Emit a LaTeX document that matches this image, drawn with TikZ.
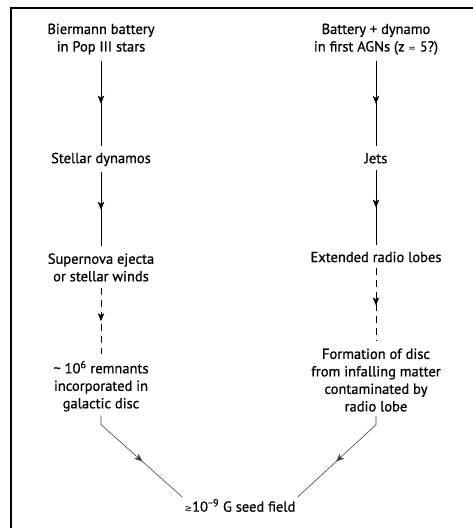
\documentclass[tikz,border=0pt]{standalone}
\usepackage{fontspec}
\setmainfont{PT Sans}[FakeBold=0.7]
\newfontfamily\symfont{DejaVu Sans}
\usetikzlibrary{positioning,arrows.meta,decorations.markings}

\tikzset{
  lbl/.style={align=center, inner sep=0pt, font=\fontsize{14.5}{17.5}\selectfont},
  midarrow/.style={postaction={decorate}, decoration={markings, mark=at position #1 with {\arrow{Stealth[length=8pt,width=6.5pt,inset=2pt]}}}},
  midarrow/.default=0.5,
  flow/.style={line width=0.7pt, midarrow, shorten <=6pt, shorten >=7pt},
  weak/.style={flow, dash pattern=on 7pt off 5pt},
  merge/.style={line width=0.6pt, black!75, midarrow=0.55, shorten <=4pt, shorten >=3pt},
}

\begin{document}
\begin{tikzpicture}[x=1pt, y=-1pt]
\useasboundingbox (0,0) rectangle (473,528);
\draw[line width=2.5pt] (11,528) -- (11,8) -- (473,8);

% left column: stars
\node[lbl, anchor=north] (bier) at (101,23.5) {Biermann battery\\in Pop III stars};
\node[lbl, below=98pt of bier] (stel) {Stellar dynamos};
\node[lbl, below=87pt of stel] (sn) {Supernova ejecta\\or stellar winds};
\node[lbl, below=79pt of sn] (rem) {\textasciitilde{} 10\textsuperscript{6} remnants\\incorporated in\\galactic disc};

% right column: AGNs
\node[lbl, anchor=north] (bat) at (376,23.5) {Battery + dynamo\\in first AGNs (z {\symfont\small ≈} 5?)};
\node[lbl, below=98pt of bat] (jets) {Jets};
\node[lbl, below=88pt of jets] (lobe) {Extended radio lobes};
\node[lbl, below=86pt of lobe] (disc) {Formation of disc\\from infalling matter\\contaminated by\\radio lobe};

\node[lbl, anchor=north] (seed) at (240,499) {{\symfont\small ≳}10\textsuperscript{−9} G seed field};

\draw[flow] (bier) -- (stel);
\draw[flow] (stel) -- (sn);
\draw[weak] (sn) -- (rem);
\draw[flow] (bat) -- (jets);
\draw[flow] (jets) -- (lobe);
\draw[weak] (lobe) -- (disc);
\draw[merge] (rem.south) -- ++(0,13) -- (seed.north west);
\draw[merge] (disc.south) -- ++(0,13) -- (seed.north east);

\end{tikzpicture}
\end{document}
